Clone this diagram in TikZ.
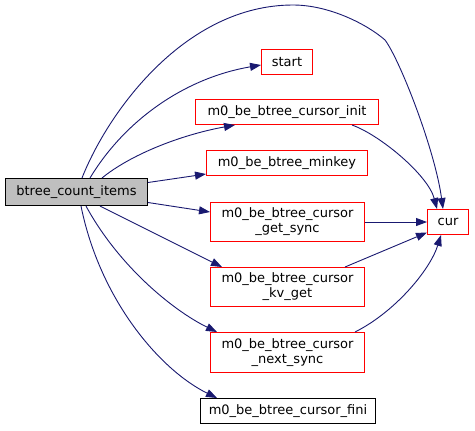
\documentclass[tikz,border=0pt]{standalone}
\usepackage{fontspec}
\setmainfont{DejaVu Sans}
\usetikzlibrary{arrows.meta}
\definecolor{edgeblue}{HTML}{191970}
\definecolor{boxgray}{HTML}{BFBFBF}
\definecolor{boxred}{HTML}{FF0000}
\tikzset{
  fn/.style={draw=boxred, line width=1bp, fill=white, inner sep=0pt, align=center,
    font=\fontsize{13bp}{15bp}\selectfont},
  plainfn/.style={fn, draw=black},
  mainfn/.style={fn, draw=black, fill=boxgray},
  call/.style={draw=edgeblue, line width=0.9bp, -{Triangle[length=11bp,width=8bp]}, color=edgeblue},
}
\begin{document}
\begin{tikzpicture}[x=1bp,y=-1bp]
\useasboundingbox (0,0) rectangle (475,430);
\node[mainfn, minimum width=142bp, minimum height=27bp] (count) at (76.5,192) {btree\_count\_items};
\node[fn, minimum width=51bp, minimum height=25bp] (start) at (287,62) {start};
\node[fn, minimum width=183bp, minimum height=25bp] (init) at (287,112) {m0\_be\_btree\_cursor\_init};
\node[fn, minimum width=161bp, minimum height=25bp] (minkey) at (287,163) {m0\_be\_btree\_minkey};
\node[fn, minimum width=154bp, minimum height=39bp] (getsync) at (287.5,222) {m0\_be\_btree\_cursor\\\_get\_sync};
\node[fn, minimum width=154bp, minimum height=39bp] (kvget) at (287.5,287) {m0\_be\_btree\_cursor\\\_kv\_get};
\node[fn, minimum width=154bp, minimum height=40bp] (nextsync) at (287.5,352.5) {m0\_be\_btree\_cursor\\\_next\_sync};
\node[plainfn, minimum width=175bp, minimum height=25bp] (fini) at (288,411) {m0\_be\_btree\_cursor\_fini};
\node[fn, minimum width=41bp, minimum height=25bp] (cur) at (448,222) {cur};

% count -> cur (big arc over the top)
\draw[call] ([xshift=5.5bp]count.north) .. controls (108,112) and (185,5) .. (293,5)
  .. controls (330,5) and (368,25) .. (385,40)
  .. controls (400,60) and (435,150) .. ([xshift=-5bp]cur.north);
\draw[call] ([xshift=13.5bp]count.north) .. controls (125,120) and (185,78) .. ([yshift=-3bp]start.west);
\draw[call] ([xshift=25.5bp]count.north) .. controls (130,155) and (180,135) .. ([xshift=-52bp]init.south);
\draw[call] ([yshift=9.5bp]count.east) -- ([yshift=-11bp]minkey.west);
\draw[call] ([yshift=-10.5bp]count.east) -- ([yshift=10bp]getsync.west);
\draw[call] ([xshift=23.5bp]count.south) -- ([xshift=-65.5bp]kvget.north);
\draw[call] ([xshift=9.5bp]count.south) .. controls (118,265) and (172,310) .. ([xshift=-70.5bp]nextsync.north);
\draw[call] ([xshift=4.5bp]count.south) .. controls (100,300) and (160,370) .. ([xshift=-71bp]fini.north);

\draw[call] ([xshift=65bp]init.south) .. controls (380,135) and (428,175) .. ([xshift=-11bp]cur.north);
\draw[call] (getsync.east) -- (cur.west);
\draw[call] ([xshift=57.5bp]kvget.north) -- ([yshift=-10.5bp]cur.west);
\draw[call] ([xshift=67.5bp]nextsync.north) .. controls (395,312) and (430,270) .. ([xshift=-7bp]cur.south);
\end{tikzpicture}
\end{document}
